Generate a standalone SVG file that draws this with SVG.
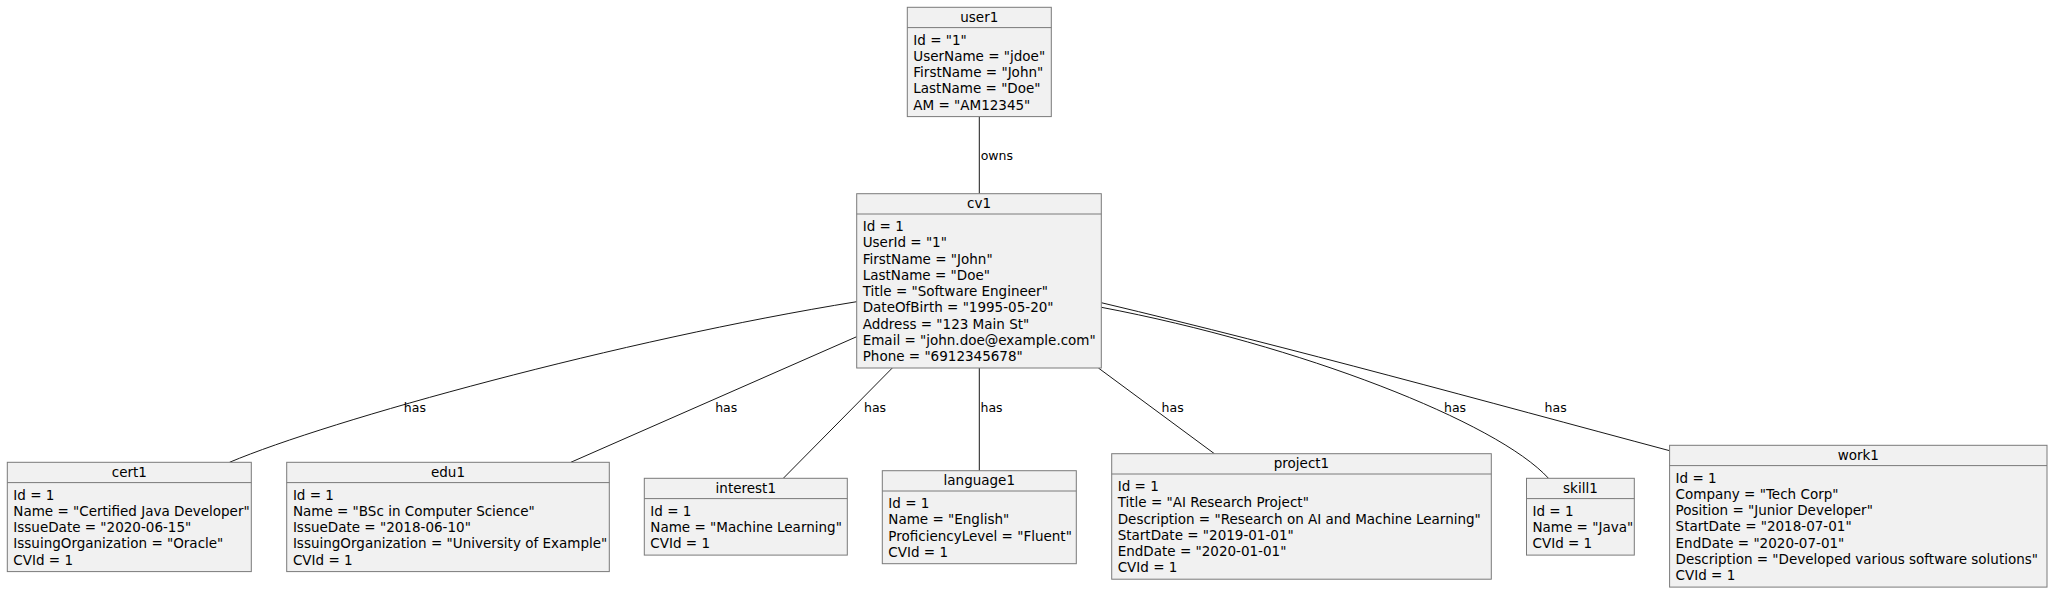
<svg xmlns="http://www.w3.org/2000/svg" width="2054" height="594" viewBox="0 0 2054 594">
<style>
.box{fill:#F1F1F1;stroke:#7a7a7a;stroke-width:1}
.sep{stroke:#7a7a7a;stroke-width:1}
.t{font-family:"DejaVu Sans","Liberation Sans",sans-serif;font-size:13.5px;fill:#000}
.ttl{font-family:"DejaVu Sans","Liberation Sans",sans-serif;font-size:13.5px;fill:#000;text-anchor:middle}
.lbl{font-family:"DejaVu Sans","Liberation Sans",sans-serif;font-size:12.5px;fill:#000}
.edge{fill:none;stroke:#181818;stroke-width:1}
</style>
<rect width="2054" height="594" fill="#FFFFFF"/>
<g id="connectors">
<line class="edge" x1="979.3" y1="116.6" x2="979.3" y2="193.7"/>
<path class="edge" d="M856.7,301.7 C620,340 330,420 229.5,462.3"/>
<line class="edge" x1="856.7" y1="336.7" x2="570.8" y2="462.3"/>
<line class="edge" x1="892.3" y1="368" x2="783.3" y2="478.3"/>
<line class="edge" x1="979.3" y1="368" x2="979.3" y2="470.7"/>
<line class="edge" x1="1098.4" y1="368" x2="1214.4" y2="453.7"/>
<path class="edge" d="M1101.3,307.3 C1300,345 1497,422 1548.5,478.3"/>
<path class="edge" d="M1101.3,302.7 C1300,350 1480,400 1669.6,450.7"/>
<text class="lbl" x="980.7" y="160">owns</text>
<text class="lbl" x="403.8" y="411.7">has</text>
<text class="lbl" x="715.2" y="411.7">has</text>
<text class="lbl" x="864" y="411.7">has</text>
<text class="lbl" x="980.5" y="411.7">has</text>
<text class="lbl" x="1161.6" y="411.7">has</text>
<text class="lbl" x="1444" y="411.7">has</text>
<text class="lbl" x="1544.6" y="411.7">has</text>
</g>
<g id="user1">
<rect class="box" x="907.3" y="7.3" width="144" height="109.3"/>
<line class="sep" x1="907.3" y1="27.6" x2="1051.3" y2="27.6"/>
<text class="ttl" x="979.3" y="21.9">user1</text>
<text class="t" x="913.3" y="44.6">Id = "1"</text>
<text class="t" x="913.3" y="60.85">UserName = "jdoe"</text>
<text class="t" x="913.3" y="77.1">FirstName = "John"</text>
<text class="t" x="913.3" y="93.35">LastName = "Doe"</text>
<text class="t" x="913.3" y="109.6">AM = "AM12345"</text>
</g>
<g id="cv1">
<rect class="box" x="856.7" y="193.7" width="244.6" height="174.3"/>
<line class="sep" x1="856.7" y1="214" x2="1101.3" y2="214"/>
<text class="ttl" x="979" y="208.3">cv1</text>
<text class="t" x="862.7" y="231">Id = 1</text>
<text class="t" x="862.7" y="247.25">UserId = "1"</text>
<text class="t" x="862.7" y="263.5">FirstName = "John"</text>
<text class="t" x="862.7" y="279.75">LastName = "Doe"</text>
<text class="t" x="862.7" y="296">Title = "Software Engineer"</text>
<text class="t" x="862.7" y="312.25">DateOfBirth = "1995-05-20"</text>
<text class="t" x="862.7" y="328.5">Address = "123 Main St"</text>
<text class="t" x="862.7" y="344.75">Email = "john.doe@example.com"</text>
<text class="t" x="862.7" y="361">Phone = "6912345678"</text>
</g>
<g id="cert1">
<rect class="box" x="7.3" y="462.3" width="244" height="109.3"/>
<line class="sep" x1="7.3" y1="482.6" x2="251.3" y2="482.6"/>
<text class="ttl" x="129.3" y="476.9">cert1</text>
<text class="t" x="13.3" y="499.6">Id = 1</text>
<text class="t" x="13.3" y="515.85">Name = "Certified Java Developer"</text>
<text class="t" x="13.3" y="532.1">IssueDate = "2020-06-15"</text>
<text class="t" x="13.3" y="548.35">IssuingOrganization = "Oracle"</text>
<text class="t" x="13.3" y="564.6">CVId = 1</text>
</g>
<g id="edu1">
<rect class="box" x="286.7" y="462.3" width="322.6" height="109.3"/>
<line class="sep" x1="286.7" y1="482.6" x2="609.3" y2="482.6"/>
<text class="ttl" x="448" y="476.9">edu1</text>
<text class="t" x="292.9" y="499.6">Id = 1</text>
<text class="t" x="292.9" y="515.85">Name = "BSc in Computer Science"</text>
<text class="t" x="292.9" y="532.1">IssueDate = "2018-06-10"</text>
<text class="t" x="292.9" y="548.35">IssuingOrganization = "University of Example"</text>
<text class="t" x="292.9" y="564.6">CVId = 1</text>
</g>
<g id="interest1">
<rect class="box" x="644.3" y="478.3" width="203" height="76.8"/>
<line class="sep" x1="644.3" y1="498.6" x2="847.3" y2="498.6"/>
<text class="ttl" x="745.8" y="492.9">interest1</text>
<text class="t" x="650.3" y="515.6">Id = 1</text>
<text class="t" x="650.3" y="531.85">Name = "Machine Learning"</text>
<text class="t" x="650.3" y="548.1">CVId = 1</text>
</g>
<g id="language1">
<rect class="box" x="882.3" y="470.7" width="194" height="93"/>
<line class="sep" x1="882.3" y1="491" x2="1076.3" y2="491"/>
<text class="ttl" x="979.3" y="485.3">language1</text>
<text class="t" x="888.3" y="508">Id = 1</text>
<text class="t" x="888.3" y="524.25">Name = "English"</text>
<text class="t" x="888.3" y="540.5">ProficiencyLevel = "Fluent"</text>
<text class="t" x="888.3" y="556.75">CVId = 1</text>
</g>
<g id="project1">
<rect class="box" x="1111.7" y="453.7" width="379.6" height="125.5"/>
<line class="sep" x1="1111.7" y1="474" x2="1491.3" y2="474"/>
<text class="ttl" x="1301.5" y="468.3">project1</text>
<text class="t" x="1117.7" y="491">Id = 1</text>
<text class="t" x="1117.7" y="507.25">Title = "AI Research Project"</text>
<text class="t" x="1117.7" y="523.5">Description = "Research on AI and Machine Learning"</text>
<text class="t" x="1117.7" y="539.75">StartDate = "2019-01-01"</text>
<text class="t" x="1117.7" y="556">EndDate = "2020-01-01"</text>
<text class="t" x="1117.7" y="572.25">CVId = 1</text>
</g>
<g id="skill1">
<rect class="box" x="1526.5" y="478.3" width="107.8" height="76.8"/>
<line class="sep" x1="1526.5" y1="498.6" x2="1634.3" y2="498.6"/>
<text class="ttl" x="1580.4" y="492.9">skill1</text>
<text class="t" x="1532.5" y="515.6">Id = 1</text>
<text class="t" x="1532.5" y="531.85">Name = "Java"</text>
<text class="t" x="1532.5" y="548.1">CVId = 1</text>
</g>
<g id="work1">
<rect class="box" x="1669.6" y="445.3" width="377.4" height="141.8"/>
<line class="sep" x1="1669.6" y1="465.6" x2="2047" y2="465.6"/>
<text class="ttl" x="1858.3" y="459.9">work1</text>
<text class="t" x="1675.6" y="482.6">Id = 1</text>
<text class="t" x="1675.6" y="498.85">Company = "Tech Corp"</text>
<text class="t" x="1675.6" y="515.1">Position = "Junior Developer"</text>
<text class="t" x="1675.6" y="531.35">StartDate = "2018-07-01"</text>
<text class="t" x="1675.6" y="547.6">EndDate = "2020-07-01"</text>
<text class="t" x="1675.6" y="563.85">Description = "Developed various software solutions"</text>
<text class="t" x="1675.6" y="580.1">CVId = 1</text>
</g>
</svg>
